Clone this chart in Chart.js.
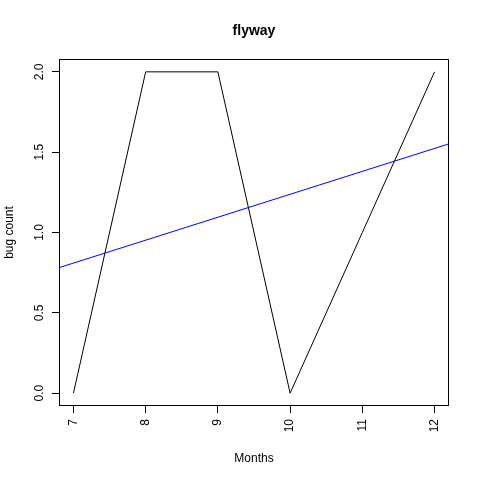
<!DOCTYPE html>
<html>
<head>
<meta charset="utf-8">
<script src="https://cdn.jsdelivr.net/npm/chart.js@4"></script>
<style>
  html, body { margin: 0; padding: 0; background: #ffffff; }
  canvas { display: block; }
</style>
</head>
<body>
<canvas id="c" width="480" height="480"></canvas>
<script>
// ---- data ----
const months = [7, 8, 9, 10, 11, 12];
const bugCount = [0, 2, 2, 0, 1, 2];
const trendX = [6.8, 12.2];
const trendY = [0.781, 1.552];
const xTicks = [7, 8, 9, 10, 11, 12];
const yTicks = [0, 0.5, 1, 1.5, 2];
const yTickLabels = ['0.0', '0.5', '1.0', '1.5', '2.0'];
const titleText = 'flyway';
const xTitle = 'Months';
const yTitle = 'bug count';

const FONT = '"Liberation Sans", Arial, sans-serif';

const decor = {
  id: 'decor',
  afterDraw(chart) {
    const ctx = chart.ctx;
    const a = chart.chartArea;
    const ys = chart.scales.y;
    ctx.save();
    // box
    ctx.strokeStyle = '#000';
    ctx.lineWidth = 1;
    ctx.strokeRect(Math.round(a.left) + 0.5, Math.round(a.top) + 0.5,
                   Math.round(a.right - a.left) - 1, Math.round(a.bottom - a.top) - 1);
    // y tick labels (rotated)
    ctx.fillStyle = '#000';
    ctx.font = '12px ' + FONT;
    ctx.textAlign = 'center';
    ctx.textBaseline = 'alphabetic';
    yTicks.forEach((v, i) => {
      const py = ys.getPixelForValue(v);
      ctx.save();
      ctx.translate(43, py);
      ctx.rotate(-Math.PI / 2);
      ctx.fillText(yTickLabels[i], 0, 0);
      ctx.restore();
    });
    const cx = (a.left + a.right) / 2;
    const cy = (a.top + a.bottom) / 2;
    // title
    ctx.font = 'bold 14px ' + FONT;
    ctx.fillText(titleText, cx, 35);
    // axis titles
    ctx.font = '12px ' + FONT;
    ctx.fillText(xTitle, cx, 462);
    ctx.save();
    ctx.translate(12.5, cy);
    ctx.rotate(-Math.PI / 2);
    ctx.fillText(yTitle, 0, 0);
    ctx.restore();
    ctx.restore();
  }
};

new Chart(document.getElementById('c'), {
  type: 'line',
  data: {
    datasets: [
      {
        label: 'bugs',
        data: months.map((m, i) => ({ x: m, y: bugCount[i] })),
        borderColor: '#000000',
        borderWidth: 1,
        pointRadius: 0,
        tension: 0,
        fill: false
      },
      {
        label: 'trend',
        data: trendX.map((m, i) => ({ x: m, y: trendY[i] })),
        borderColor: '#0000ff',
        borderWidth: 1,
        pointRadius: 0,
        tension: 0,
        fill: false
      }
    ]
  },
  options: {
    responsive: false,
    animation: false,
    devicePixelRatio: 1,
    layout: { padding: { top: 59, left: 0, right: 31, bottom: 0 } },
    plugins: { legend: { display: false }, title: { display: false }, tooltip: { enabled: false } },
    scales: {
      x: {
        type: 'linear',
        min: 6.8,
        max: 12.2,
        afterBuildTicks: s => { s.ticks = xTicks.map(v => ({ value: v })); },
        afterFit: s => { s.height = 74; },
        border: { display: false },
        grid: { drawOnChartArea: false, drawTicks: true, tickLength: 7, tickColor: '#000', lineWidth: 1 },
        ticks: {
          minRotation: 90,
          maxRotation: 90,
          padding: 6,
          color: '#000',
          font: { family: FONT, size: 12 },
          callback: v => String(v)
        }
      },
      y: {
        type: 'linear',
        min: -0.08,
        max: 2.08,
        afterBuildTicks: s => { s.ticks = yTicks.map(v => ({ value: v })); },
        afterFit: s => { s.width = 59; },
        border: { display: false },
        grid: { drawOnChartArea: false, drawTicks: true, tickLength: 7, tickColor: '#000', lineWidth: 1 },
        ticks: { display: false }
      }
    }
  },
  plugins: [decor]
});
</script>
</body>
</html>
